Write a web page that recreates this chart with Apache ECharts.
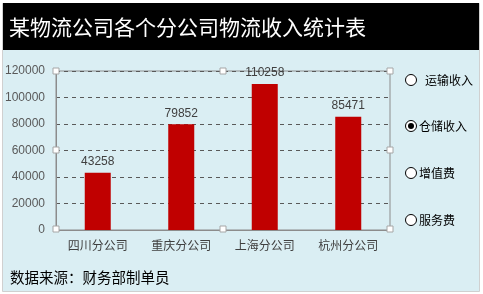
<!DOCTYPE html>
<html><head><meta charset="utf-8">
<script src="https://cdn.jsdelivr.net/npm/echarts@6/dist/echarts.min.js"></script>
<style>html,body{margin:0;padding:0;background:#fff}#c{width:483px;height:294px}</style>
</head><body><div id="c"></div>
<script>
var title = '某物流公司各个分公司物流收入统计表';
var categories = ['四川分公司', '重庆分公司', '上海分公司', '杭州分公司'];
var values = [43258, 79852, 110258, 85471];
var legendItems = ['运输收入', '仓储收入', '增值费', '服务费'];
var selectedIndex = 1;
var footer = '数据来源：财务部制单员';

var FONT = "'Liberation Sans','Noto Sans CJK SC',sans-serif";
var chart = echarts.init(document.getElementById('c'), null, {renderer: 'canvas'});

var gfx = [
  {type: 'rect', shape: {x: 2.5, y: 3.5, width: 477, height: 288}, style: {fill: '#DAEEF3', stroke: '#d0d0d0', lineWidth: 1}, z: -10},
  {type: 'rect', shape: {x: 3, y: 3, width: 476, height: 47}, style: {fill: '#000'}, z: -5},
  {type: 'text', x: 9, y: 27, style: {text: title, fill: '#fff', font: "21px 'Noto Sans CJK SC'", textVerticalAlign: 'middle'}},
  {type: 'text', x: 10, y: 277, style: {text: footer, fill: '#000', font: "14.5px 'Noto Sans CJK SC'", textVerticalAlign: 'middle'}}
];
var legendY = [80, 126, 173, 220];
legendItems.forEach(function (t, i) {
  gfx.push({type: 'circle', shape: {cx: 411, cy: legendY[i], r: 5.5}, style: {fill: '#fff', stroke: '#000', lineWidth: 1}});
  if (i === selectedIndex) gfx.push({type: 'circle', shape: {cx: 411, cy: legendY[i], r: 3}, style: {fill: '#000'}});
  gfx.push({type: 'text', x: i === 0 ? 425 : 419, y: legendY[i], style: {text: t, fill: '#000', font: "12px 'Noto Sans CJK SC'", textVerticalAlign: 'middle'}});
});
var hx = [56, 223, 390], hy = [71, 150, 229];
hx.forEach(function (x, a) { hy.forEach(function (y, b) {
  if (a === 1 && b === 1) return;
  gfx.push({type: 'rect', shape: {x: x - 3, y: y - 3, width: 6, height: 6}, style: {fill: '#fff', stroke: '#a6a6a6', lineWidth: 1}, z: 100});
}); });

chart.setOption({
  animation: false,
  backgroundColor: '#fff',
  textStyle: {fontFamily: FONT},
  graphic: gfx,
  grid: {left: 56, right: 93, top: 71, bottom: 64, show: true, borderColor: '#8c8c8c', borderWidth: 1, backgroundColor: 'transparent'},
  xAxis: {
    type: 'category', data: categories,
    axisLine: {lineStyle: {color: '#8c8c8c'}}, axisTick: {show: false},
    axisLabel: {color: '#404040', fontSize: 12, margin: 9, fontFamily: "'Noto Sans CJK SC'"}
  },
  yAxis: {
    type: 'value', min: 0, max: 120000, interval: 20000,
    axisLine: {show: true, lineStyle: {color: '#8c8c8c'}}, axisTick: {show: false},
    axisLabel: {color: '#595959', fontSize: 12, margin: 11, formatter: function (v) { return String(v); }},
    splitLine: {lineStyle: {color: '#595959', type: [4, 4]}}
  },
  series: [{
    type: 'bar', data: values, barWidth: 26,
    itemStyle: {color: '#C00000'},
    label: {show: true, position: 'top', color: '#404040', fontSize: 12, distance: 5}
  }]
});
</script></body></html>
